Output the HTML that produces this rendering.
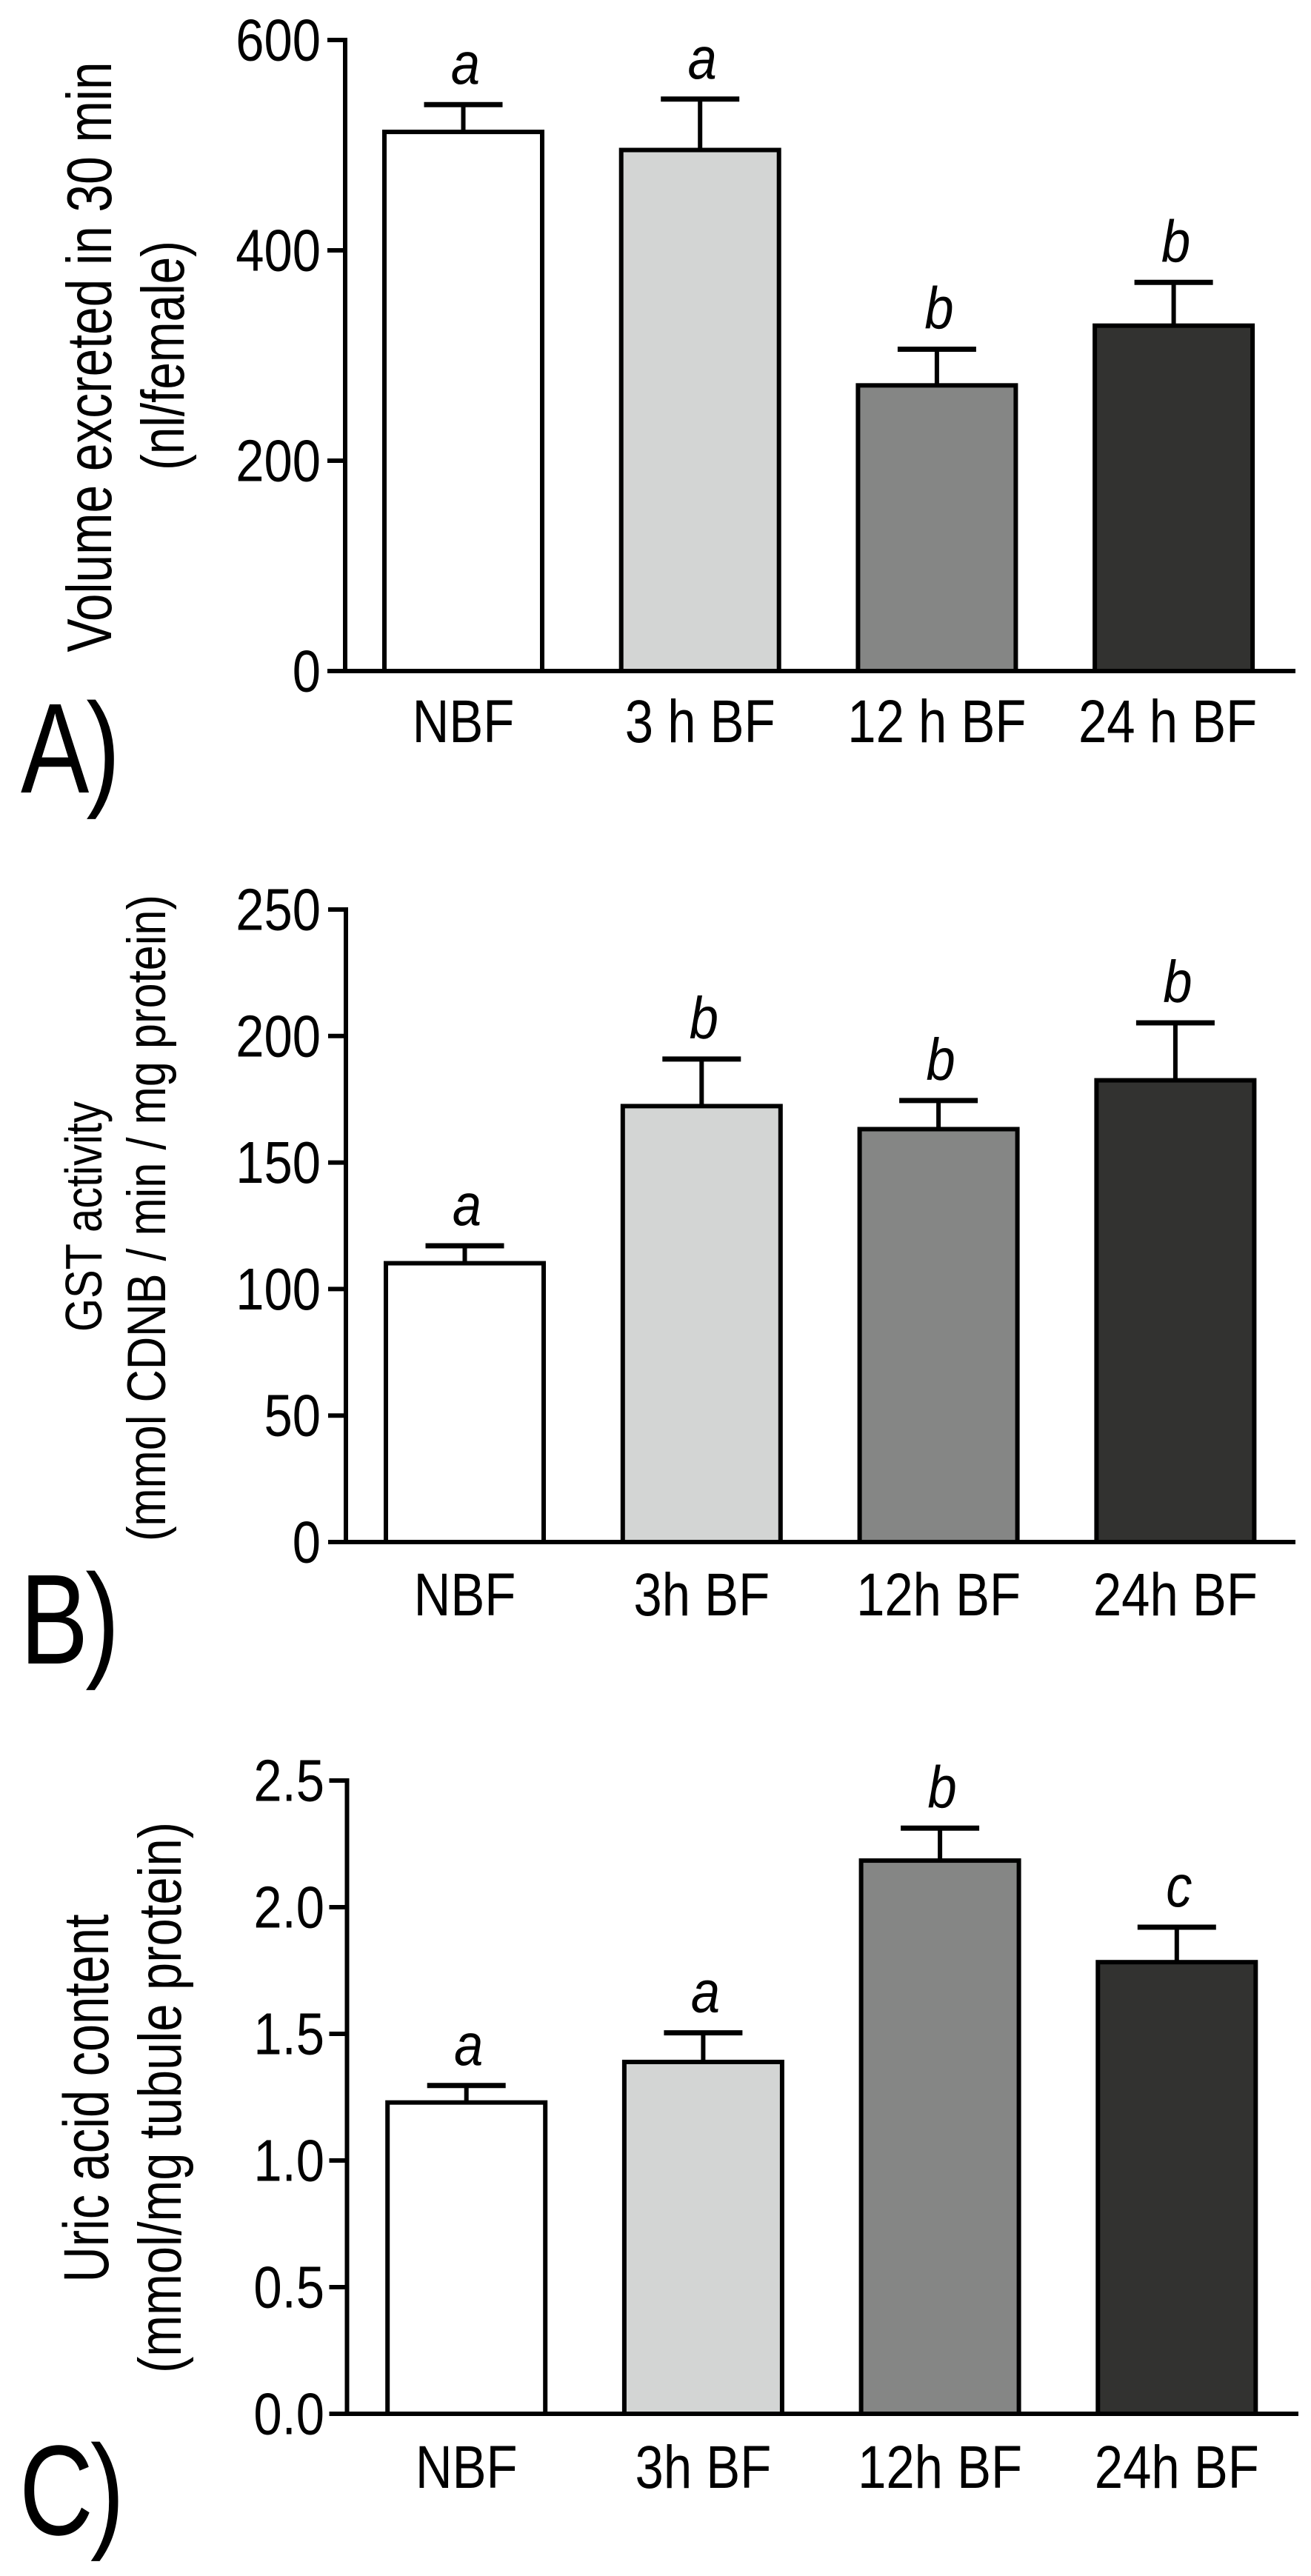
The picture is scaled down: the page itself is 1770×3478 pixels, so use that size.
<!DOCTYPE html>
<html lang="en">
<head>
<meta charset="utf-8">
<title>Excretion, GST activity and uric acid after blood feeding</title>
<style>
html,body{margin:0;padding:0;background:#fff;}
svg{display:block;}
text{font-family:"Liberation Sans",Arial,sans-serif;fill:#000;}
</style>
</head>
<body>
<svg id="figure" xmlns="http://www.w3.org/2000/svg" width="1770" height="3478" viewBox="0 0 1770 3478">
  <rect width="1770" height="3478" fill="#fff"/>

  <text transform="translate(28,1070) scale(.8,1)" font-size="173" letter-spacing="-5">A)</text>
  <text transform="translate(27,2246) scale(.8,1)" font-size="173" letter-spacing="-5">B)</text>
  <text transform="translate(26,3422) scale(.8,1)" font-size="173" letter-spacing="-5">C)</text>

  <text transform="translate(150,482) rotate(-90)" text-anchor="middle" font-size="85" textLength="797" lengthAdjust="spacingAndGlyphs">Volume excreted in 30 min</text>
  <text transform="translate(248,480) rotate(-90)" text-anchor="middle" font-size="82" textLength="310" lengthAdjust="spacingAndGlyphs">(nl/female)</text>

  <text transform="translate(137,1642.5) rotate(-90)" text-anchor="middle" font-size="70" textLength="311" lengthAdjust="spacingAndGlyphs">GST activity</text>
  <text transform="translate(223,1644.5) rotate(-90)" text-anchor="middle" font-size="73" textLength="873" lengthAdjust="spacingAndGlyphs">(mmol CDNB / min / mg protein)</text>

  <text transform="translate(146,2833) rotate(-90)" text-anchor="middle" font-size="86" textLength="497" lengthAdjust="spacingAndGlyphs">Uric acid content</text>
  <text transform="translate(244,2832) rotate(-90)" text-anchor="middle" font-size="82" textLength="744" lengthAdjust="spacingAndGlyphs">(mmol/mg tubule protein)</text>
</svg>

<script>
/* Panel A: volume excreted in 30 min */
const panelACategories = ["NBF", "3 h BF", "12 h BF", "24 h BF"];
const panelAMeans = [512.6, 495.4, 271.6, 328.4];
const panelAErrorTops = [538.6, 543.8, 306, 369.5];
const panelALetters = ["a", "a", "b", "b"];
const panelATickLabels = ["0", "200", "400", "600"];

/* Panel B: GST activity */
const panelBCategories = ["NBF", "3h BF", "12h BF", "24h BF"];
const panelBMeans = [110.2, 172.3, 163.2, 182.5];
const panelBErrorTops = [117.1, 190.9, 174.5, 205.2];
const panelBLetters = ["a", "b", "b", "b"];
const panelBTickLabels = ["0", "50", "100", "150", "200", "250"];

/* Panel C: uric acid content */
const panelCCategories = ["NBF", "3h BF", "12h BF", "24h BF"];
const panelCMeans = [1.229, 1.389, 2.184, 1.783];
const panelCErrorTops = [1.296, 1.504, 2.312, 1.921];
const panelCLetters = ["a", "a", "b", "c"];
const panelCTickLabels = ["0.0", "0.5", "1.0", "1.5", "2.0", "2.5"];

const SVG_NS = "http://www.w3.org/2000/svg";
const figure = document.getElementById("figure");
const barFill = ["#ffffff", "#d3d5d4", "#858685", "#323230"];

function addShape(parent, tag, attrs) {
  const el = document.createElementNS(SVG_NS, tag);
  for (const key in attrs) el.setAttribute(key, attrs[key]);
  parent.appendChild(el);
  return el;
}

function drawPanel(p) {
  const yMax = Number(p.ticks[p.ticks.length - 1]);
  const yScale = v => p.y0 - (v / yMax) * (p.y0 - p.yTop);
  const xScale = i => p.x0 + i * p.step;

  const group = addShape(figure, "g", {});
  
  

  p.categories.forEach((category, i) => {
    const cx = xScale(i);
    const top = yScale(p.means[i]);
    const errTop = yScale(p.errs[i]);

    const whisker = addShape(group, "line", {x1: cx, x2: cx, y1: errTop, y2: top, stroke: "#000", "stroke-width": 6});
    
    

    const cap = addShape(group, "line", {x1: cx - 53, x2: cx + 53, y1: errTop, y2: errTop, stroke: "#000", "stroke-width": 7});
    
    

    const bar = addShape(group, "rect", {x: cx - 106.5, y: top, width: 213, height: p.y0 - top, fill: barFill[i], stroke: "#000", "stroke-width": 6});
    
    

    const letter = addShape(group, "text", {transform: "translate(" + (cx + 3) + "," + (errTop - 28) + ") scale(.88,1)", "text-anchor": "middle", "font-size": 80, "font-style": "italic"});
    letter.textContent = p.letters[i];
    
    

    const shift = i === p.categories.length - 1 ? p.lastLabelShift : 0;
    const label = addShape(group, "text", {transform: "translate(" + (cx + shift) + "," + p.labelBase + ") scale(.84,1)", "text-anchor": "middle", "font-size": 82});
    label.textContent = category;
    
    
  });

  const yAxis = addShape(group, "line", {x1: p.axisX, x2: p.axisX, y1: p.yTop - 3, y2: p.y0, stroke: "#000", "stroke-width": 6});
  
  

  const xAxis = addShape(group, "line", {x1: p.axisX, x2: p.axisEnd, y1: p.y0, y2: p.y0, stroke: "#000", "stroke-width": 6});
  
  

  p.ticks.forEach(tick => {
    const y = yScale(Number(tick));

    const mark = addShape(group, "line", {x1: p.axisX - 24, x2: p.axisX, y1: y, y2: y, stroke: "#000", "stroke-width": 6});
    
    

    const text = addShape(group, "text", {transform: "translate(" + p.tickRight + "," + (y + 27.5) + ") scale(.86,1)", "text-anchor": "end", "font-size": 80});
    text.textContent = tick;
    
    
  });
}

drawPanel({id: "panel-a", categories: panelACategories, means: panelAMeans, errs: panelAErrorTops, letters: panelALetters, ticks: panelATickLabels,
  y0: 906, yTop: 54, x0: 625.5, step: 319.7, axisX: 466, axisEnd: 1749, tickRight: 433, labelBase: 1002, lastLabelShift: -8});
drawPanel({id: "panel-b", categories: panelBCategories, means: panelBMeans, errs: panelBErrorTops, letters: panelBLetters, ticks: panelBTickLabels,
  y0: 2082, yTop: 1228, x0: 627.5, step: 319.8, axisX: 467, axisEnd: 1749, tickRight: 433, labelBase: 2181, lastLabelShift: 0});
drawPanel({id: "panel-c", categories: panelCCategories, means: panelCMeans, errs: panelCErrorTops, letters: panelCLetters, ticks: panelCTickLabels,
  y0: 3259, yTop: 2404, x0: 629.7, step: 319.7, axisX: 468.5, axisEnd: 1753, tickRight: 438, labelBase: 3359, lastLabelShift: 0});
</script>
</body>
</html>
